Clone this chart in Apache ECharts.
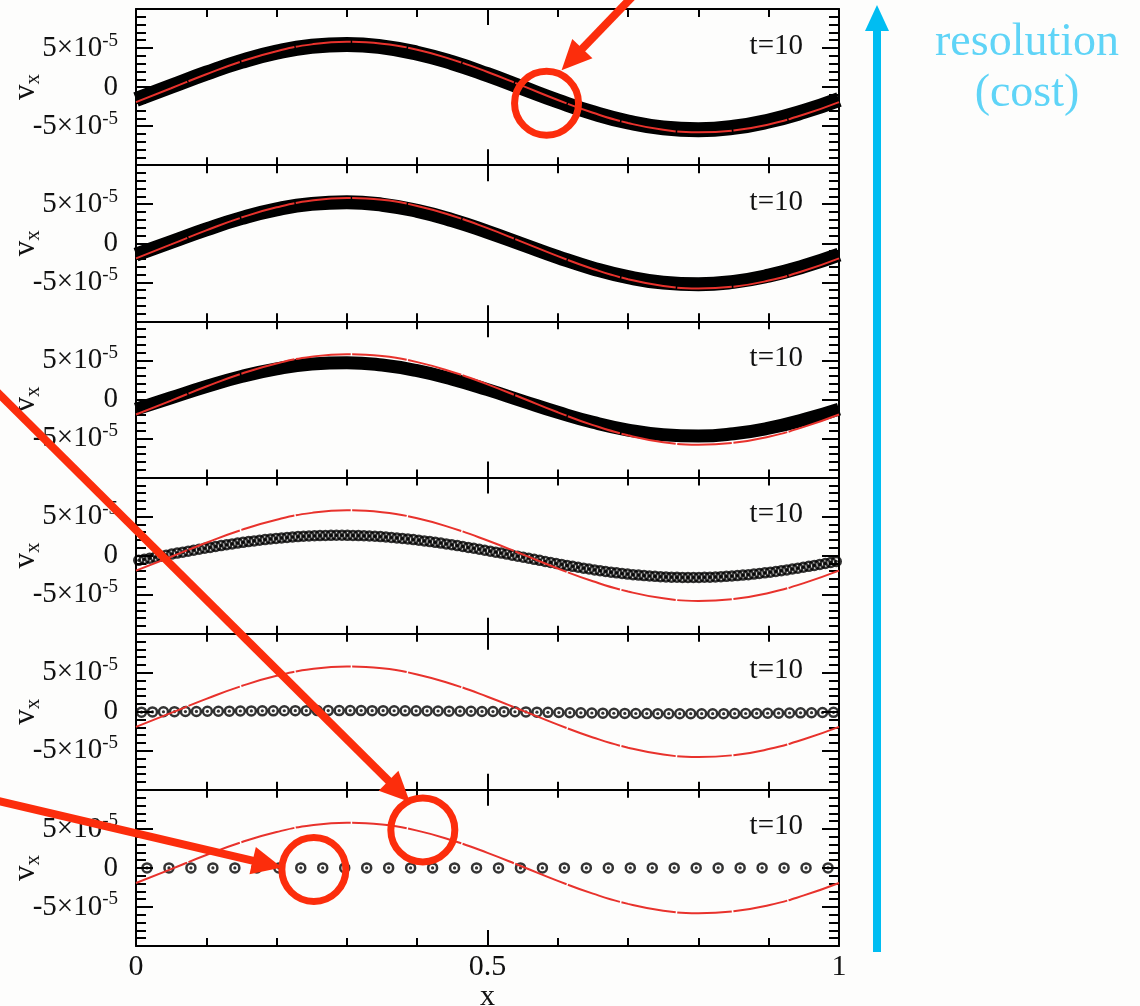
<!DOCTYPE html>
<html>
<head>
<meta charset="utf-8">
<script src="https://cdn.jsdelivr.net/npm/echarts@6/dist/echarts.min.js"></script>
<style>
  html, body { margin: 0; padding: 0; background: #fdfdfc; }
  #chart { width: 1140px; height: 1006px; }
</style>
</head>
<body>
<div id="chart"></div>
<script>
// ---- data (velocity values in units of 1e-5) ----
const UNIT = 1e-5;
const X_TICK_VALUES = [0, 0.5, 1];
const X_TICK_TEXT = ['0', '0.5', '1'];
const Y_TICK_VALUES = [-5e-5, 0, 5e-5];
const Y_TICK_TEXT = ['-5×10', '0', '5×10'];
const Y_TICK_EXP = ['-5', '', '-5'];
const PANEL_LABEL = 't=10';
const RESOLUTIONS = [1024, 512, 256, 128, 64, 32];

// exact solution, sampled every 0.05 in x
const REF_X = [0, 0.05, 0.1, 0.15, 0.2, 0.25, 0.3, 0.35, 0.4, 0.45, 0.5,
               0.55, 0.6, 0.65, 0.7, 0.75, 0.8, 0.85, 0.9, 0.95, 1];
const REF_V = [-1.93, -0.15, 1.65, 3.29, 4.60, 5.47, 5.80, 5.56, 4.78, 3.52, 1.93,
               0.15, -1.65, -3.29, -4.60, -5.47, -5.80, -5.56, -4.78, -3.52, -1.93];

// fine runs: the markers merge into a band, traced at the same x samples
const V_1024 = [-1.59, 0.10, 1.78, 3.29, 4.47, 5.22, 5.45, 5.15, 4.34, 3.12, 1.59,
                -0.10, -1.78, -3.29, -4.47, -5.22, -5.45, -5.15, -4.34, -3.12, -1.59];
const V_512 = [-1.46, 0.16, 1.78, 3.22, 4.34, 5.04, 5.25, 4.94, 4.15, 2.95, 1.46,
               -0.16, -1.78, -3.22, -4.34, -5.04, -5.25, -4.94, -4.15, -2.95, -1.46];
const V_256 = [-1.25, 0.21, 1.65, 2.93, 3.92, 4.53, 4.70, 4.40, 3.68, 2.59, 1.25,
               -0.21, -1.65, -2.93, -3.92, -4.53, -4.70, -4.40, -3.68, -2.59, -1.25];

// coarse runs: one value per cell
const V_128 = [
  -0.61, -0.48, -0.34, -0.21, -0.07,
  0.06, 0.19, 0.32, 0.44, 0.57, 0.69, 0.82, 0.94, 1.05, 1.17, 1.28, 1.39, 1.50, 1.60, 1.70, 1.79,
  1.88, 1.97, 2.05, 2.13, 2.20, 2.26, 2.32, 2.38, 2.43, 2.47, 2.51, 2.54, 2.56, 2.58, 2.59, 2.60,
  2.60, 2.59, 2.58, 2.56, 2.54, 2.51, 2.47, 2.43, 2.38, 2.32, 2.26, 2.20, 2.13, 2.05, 1.97, 1.88,
  1.79, 1.70, 1.60, 1.50, 1.39, 1.28, 1.17, 1.05, 0.94, 0.82, 0.69, 0.57, 0.44, 0.32, 0.19, 0.06,
  -0.07, -0.21, -0.34, -0.48, -0.61, -0.75, -0.88, -1.01, -1.13, -1.26, -1.38, -1.50, -1.61, -1.72,
  -1.83, -1.93, -2.03, -2.12, -2.21, -2.29, -2.37, -2.44, -2.50, -2.56, -2.61, -2.66, -2.70, -2.73,
  -2.76, -2.78, -2.79, -2.80,
  -2.80, -2.79, -2.78, -2.76, -2.73, -2.70, -2.66, -2.61, -2.56, -2.50, -2.44, -2.37, -2.29, -2.21,
  -2.12, -2.03, -1.93, -1.83, -1.72, -1.61, -1.50, -1.38, -1.26, -1.13, -1.01, -0.88, -0.75
];
const V_64 = [
  -0.05, -0.02,
  0, 0.01, 0.03, 0.04, 0.06, 0.07, 0.08, 0.10, 0.11, 0.12, 0.12, 0.13, 0.14, 0.14, 0.15, 0.15, 0.15,
  0.15, 0.15, 0.14, 0.14, 0.13, 0.12, 0.12, 0.11, 0.10, 0.08, 0.07, 0.06, 0.04, 0.03, 0.01, 0,
  -0.02, -0.05, -0.07, -0.10, -0.12, -0.14, -0.16, -0.18, -0.19, -0.21, -0.22, -0.23, -0.24, -0.25,
  -0.25, -0.25, -0.25, -0.25, -0.24, -0.23, -0.22, -0.21, -0.19, -0.18, -0.16, -0.14, -0.12, -0.10, -0.07
];
const V_32 = [
  0, 0, 0, 0, 0, 0, 0, 0, 0, 0, 0, 0, 0, 0, 0, 0,
  0, 0, 0, 0, 0, 0, 0, 0, 0, 0, 0, 0, 0, 0, 0, 0
];

// highlighted spots (panel index, x, value in 1e-5)
const MARK_PANEL = [0, 5, 5];
const MARK_X = [0.584, 0.408, 0.253];
const MARK_V = [-2.07, 4.87, -0.2];

// ---- layout / style ----
const FONT = 'Liberation Serif';
const PLOT_LEFT = 136, PLOT_RIGHT = 839, PLOT_TOP = 9, PANEL_H = 156.17;
const RED = '#e8322c';
const NOTE_RED = '#fc2d0c';
const BLUE = '#00bdf2';
const BLUE_TEXT = '#5fd4f7';

const cellCenters = n => Array.from({ length: n }, (_, i) => (i + 0.5) / n);
const pairs = (xs, vs) => xs.map((x, i) => [x, vs[i] * UNIT]);

const panels = [
  { res: RESOLUTIONS[0], band: V_1024, width: 15 },
  { res: RESOLUTIONS[1], band: V_512, width: 14 },
  { res: RESOLUTIONS[2], band: V_256, width: 13 },
  { res: RESOLUTIONS[3], cells: V_128 },
  { res: RESOLUTIONS[4], cells: V_64 },
  { res: RESOLUTIONS[5], cells: V_32 }
];

const grids = [], xAxes = [], yAxes = [], series = [];
const tickStyle = { color: '#000', width: 2 };
const lineStyle = { color: '#000', width: 2 };

panels.forEach((p, k) => {
  const last = k === panels.length - 1;
  grids.push({
    left: PLOT_LEFT, width: PLOT_RIGHT - PLOT_LEFT,
    top: PLOT_TOP + k * PANEL_H, height: PANEL_H,
    containLabel: false, outerBoundsMode: 'none'
  });
  const xBase = {
    gridIndex: k, type: 'value', min: 0, max: 1, interval: 0.5,
    axisLine: { show: true, onZero: false, lineStyle },
    axisTick: { show: true, inside: true, length: 16, lineStyle: tickStyle },
    minorTick: { show: true, splitNumber: 5, length: 8, lineStyle: tickStyle },
    splitLine: { show: false }, minorSplitLine: { show: false }
  };
  xAxes.push(Object.assign({}, xBase, {
    position: 'bottom',
    axisLabel: {
      show: last, margin: 6, fontFamily: FONT, fontSize: 30, color: '#111',
      formatter: v => {
        const i = X_TICK_VALUES.findIndex(t => Math.abs(t - v) < 1e-9);
        return i < 0 ? '' : X_TICK_TEXT[i];
      }
    },
    name: last ? 'x' : '', nameLocation: 'middle', nameGap: 36, nameMoveOverlap: false,
    nameTextStyle: { fontFamily: FONT, fontSize: 30, color: '#111' }
  }));
  xAxes.push(Object.assign({}, xBase, { position: 'top', axisLabel: { show: false } }));

  const yBase = {
    gridIndex: k, type: 'value', min: -1e-4, max: 1e-4, interval: 5e-5,
    axisLine: { show: true, onZero: false, lineStyle },
    axisTick: { show: true, inside: true, length: 17, lineStyle: tickStyle },
    minorTick: { show: true, splitNumber: 5, length: 10, lineStyle: tickStyle },
    splitLine: { show: false }, minorSplitLine: { show: false }
  };
  yAxes.push(Object.assign({}, yBase, {
    position: 'left',
    axisLabel: {
      show: true, margin: 18,
      formatter: v => {
        const i = Y_TICK_VALUES.findIndex(t => Math.abs(t - v) < 1e-12);
        if (i < 0) return '';
        return Y_TICK_EXP[i] ? `{m|${Y_TICK_TEXT[i]}}{s|${Y_TICK_EXP[i]}}` : `{m|${Y_TICK_TEXT[i]}}`;
      },
      rich: {
        m: { fontFamily: FONT, fontSize: 29, lineHeight: 34, color: '#111' },
        s: { fontFamily: FONT, fontSize: 19, lineHeight: 20, color: '#111', verticalAlign: 'top' }
      }
    },
    name: '{v|v}{x|x}', nameLocation: 'middle', nameRotate: 90, nameGap: 92,
    nameMoveOverlap: false,
    nameTextStyle: {
      rich: {
        v: { fontFamily: FONT, fontSize: 31, lineHeight: 36, color: '#111' },
        x: { fontFamily: FONT, fontSize: 21, lineHeight: 24, color: '#111', verticalAlign: 'bottom' }
      }
    }
  }));
  yAxes.push(Object.assign({}, yBase, { position: 'right', axisLabel: { show: false } }));

  const xi = 2 * k, yi = 2 * k;
  if (p.band) {
    series.push({
      type: 'line', xAxisIndex: xi, yAxisIndex: yi, data: pairs(REF_X, p.band),
      smooth: true, showSymbol: false, clip: true, silent: true, z: 2,
      lineStyle: { color: '#000', width: p.width }
    });
  } else {
    const xs = cellCenters(p.res);
    series.push({
      type: 'scatter', xAxisIndex: xi, yAxisIndex: yi, data: pairs(xs, p.cells),
      symbol: 'circle', symbolSize: 9, clip: true, silent: true, z: 2,
      itemStyle: { color: 'rgba(0,0,0,0)', borderColor: '#000', borderWidth: 2.5 }
    });
    series.push({
      type: 'scatter', xAxisIndex: xi, yAxisIndex: yi, data: pairs(xs, p.cells),
      symbol: 'circle', symbolSize: 3.2, clip: true, silent: true, z: 2,
      itemStyle: { color: '#000' }
    });
  }
  series.push({
    type: 'line', xAxisIndex: xi, yAxisIndex: yi, data: pairs(REF_X, REF_V),
    smooth: true, showSymbol: false, clip: true, silent: true, z: 3,
    lineStyle: { color: RED, width: 2, type: [55, 1.5] }
  });
});

const chart = echarts.init(document.getElementById('chart'), null, { renderer: 'canvas' });
chart.setOption({
  backgroundColor: '#fdfdfc',
  animation: false,
  grid: grids, xAxis: xAxes, yAxis: yAxes, series
});

// ---- annotations ----
const graphic = [];

// panel labels
panels.forEach((p, k) => {
  graphic.push({
    type: 'text', silent: true,
    style: {
      x: 803, y: PLOT_TOP + k * PANEL_H + 37, text: PANEL_LABEL,
      align: 'right', verticalAlign: 'middle',
      font: `29px "${FONT}"`, fill: '#111'
    }
  });
});

// red rings and arrows pointing at them
const ARROW_START = [[633, -4], [-6, 389], [-6, 800]];
const ARROW_TIP_OFFSET = [[15, -33], [-13, -28], [-32, -2]];
const RING_R = 32;

function arrow(from, to, color, width, headLen, headHalf) {
  const dx = to[0] - from[0], dy = to[1] - from[1];
  const len = Math.hypot(dx, dy), ux = dx / len, uy = dy / len;
  const bx = to[0] - ux * headLen, by = to[1] - uy * headLen;
  const nx = -uy, ny = ux;
  return [
    { type: 'line', silent: true, z: 10,
      shape: { x1: from[0], y1: from[1], x2: bx + ux * 2, y2: by + uy * 2 },
      style: { stroke: color, lineWidth: width } },
    { type: 'polygon', silent: true, z: 10,
      shape: { points: [to, [bx + nx * headHalf, by + ny * headHalf], [bx - nx * headHalf, by - ny * headHalf]] },
      style: { fill: color } }
  ];
}

MARK_PANEL.forEach((k, i) => {
  const c = chart.convertToPixel({ gridIndex: k }, [MARK_X[i], MARK_V[i] * UNIT]);
  graphic.push({
    type: 'circle', silent: true, z: 10,
    shape: { cx: c[0], cy: c[1], r: RING_R },
    style: { fill: 'none', stroke: NOTE_RED, lineWidth: 7 }
  });
  const tip = [c[0] + ARROW_TIP_OFFSET[i][0], c[1] + ARROW_TIP_OFFSET[i][1]];
  graphic.push(...arrow(ARROW_START[i], tip, NOTE_RED, 8, 30, 14));
});

// resolution / cost arrow
graphic.push(...arrow([877, 952], [877, 5], BLUE, 8, 26, 12));
graphic.push({
  type: 'text', silent: true,
  style: { x: 1027, y: 43, text: 'resolution', align: 'center', verticalAlign: 'middle',
           font: `46px "${FONT}"`, fill: BLUE_TEXT }
});
graphic.push({
  type: 'text', silent: true,
  style: { x: 1027, y: 94, text: '(cost)', align: 'center', verticalAlign: 'middle',
           font: `46px "${FONT}"`, fill: BLUE_TEXT }
});

chart.setOption({ graphic });
</script>
</body>
</html>
